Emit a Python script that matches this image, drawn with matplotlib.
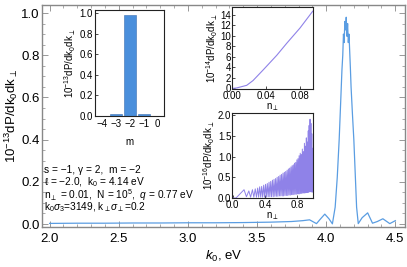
import numpy as np
import matplotlib
matplotlib.use("Agg")
from matplotlib import pyplot as plt
from matplotlib.ticker import MultipleLocator

plt.rcParams['font.family'] = ['Liberation Sans', 'DejaVu Sans']
plt.rcParams['mathtext.fontset'] = 'custom'
plt.rcParams['mathtext.rm'] = 'Liberation Sans'
plt.rcParams['mathtext.it'] = 'Liberation Sans:italic'
plt.rcParams['mathtext.bf'] = 'Liberation Sans:bold'

# main spectrum dP/dk0dk_perp (10^-13) vs k0 (eV)
k0 = [2.00, 2.20, 2.40, 2.60, 2.80, 3.00, 3.20, 3.40, 3.60, 3.75, 3.83, 3.88,
      3.93, 3.96, 3.99, 4.02, 4.045, 4.065, 4.08, 4.094, 4.105, 4.114, 4.12,
      4.125, 4.13, 4.135, 4.14, 4.145, 4.15, 4.155, 4.16, 4.165, 4.17, 4.175,
      4.18, 4.19, 4.20, 4.21, 4.22, 4.232, 4.26, 4.30, 4.335, 4.37, 4.41,
      4.46, 4.50]
spec = [0.003, 0.004, 0.004, 0.005, 0.005, 0.006, 0.006, 0.007, 0.009, 0.012,
        0.016, 0.02, 0.002, 0.025, 0.047, 0.025, 0.001, 0.08, 0.22, 0.40,
        0.58, 0.73, 0.80, 0.90, 0.86, 0.96, 0.92, 0.98, 0.89, 0.95, 0.86,
        0.90, 0.82, 0.74, 0.65, 0.52, 0.40, 0.24, 0.08, 0.002, 0.03, 0.053,
        0.004, 0.012, 0.025, 0.002, 0.016]

# inset 1: distribution over m
m_vals = [-4, -3, -2, -1]
m_dist = [0.003, 0.02, 0.98, 0.02]

# inset 2: small n_perp (10^-14)
n_small = [0.0, 0.0055, 0.0173, 0.0247, 0.0365, 0.0526, 0.0644, 0.080, 0.095]
d_small = [0.0, 0.1, 0.6, 1.5, 3.5, 6.3, 8.6, 11.5, 14.7]

# inset 3: full n_perp range (10^-16), peaks and troughs in order
n_full = [0.0, 0.04, 0.14, 0.17, 0.20, 0.222, 0.245, 0.262, 0.28, 0.295,
          0.31, 0.322, 0.335, 0.348, 0.36, 0.372, 0.385, 0.396, 0.408, 0.419,
          0.43, 0.441, 0.452, 0.462, 0.473, 0.483, 0.494, 0.504, 0.514, 0.524,
          0.534, 0.543, 0.553, 0.562, 0.572, 0.581, 0.59, 0.599, 0.608, 0.617,
          0.626, 0.634, 0.643, 0.651, 0.66, 0.668, 0.677, 0.685, 0.693, 0.701,
          0.709, 0.717, 0.725, 0.732, 0.74, 0.747, 0.755, 0.762, 0.77, 0.777,
          0.785, 0.792, 0.799, 0.806, 0.813, 0.82, 0.827, 0.834, 0.841, 0.847,
          0.854, 0.86, 0.867, 0.873, 0.88, 0.886, 0.893, 0.899, 0.905, 0.911,
          0.917, 0.923, 0.929, 0.935, 0.941, 0.946, 0.952, 0.957, 0.963, 0.968,
          0.974, 0.979, 0.985, 0.99, 0.995, 0.999]
d_full = [0.0, 0.0, 0.20, 0.03, 0.17, 0.02, 0.20, 0.02, 0.22, 0.02,
          0.24, 0.02, 0.27, 0.02, 0.28, 0.02, 0.31, 0.02, 0.33, 0.02,
          0.35, 0.03, 0.38, 0.03, 0.40, 0.03, 0.43, 0.03, 0.45, 0.04,
          0.47, 0.04, 0.50, 0.04, 0.52, 0.05, 0.55, 0.05, 0.57, 0.05,
          0.60, 0.05, 0.62, 0.06, 0.64, 0.06, 0.67, 0.06, 0.70, 0.07,
          0.72, 0.07, 0.75, 0.08, 0.78, 0.08, 0.80, 0.08, 0.84, 0.09,
          0.86, 0.09, 0.92, 0.10, 0.95, 0.10, 1.02, 0.10, 1.08, 0.11,
          1.05, 0.11, 1.18, 0.12, 1.12, 0.12, 1.32, 0.12, 1.25, 0.13,
          1.45, 0.13, 1.35, 0.14, 1.62, 0.14, 1.75, 0.15, 1.90, 0.15,
          1.80, 0.15, 1.55, 0.14, 1.20, 0.40]

blue = '#5a9de2'
bar_blue = '#4a8fdc'
purple = '#8f82e8'
ylab = r'$10^{-13}$dP/dk$_0$dk$_\perp$'

fig = plt.figure(figsize=(4.07, 2.67), dpi=100)

ax = fig.add_axes([42 / 407, 1 - 227 / 267, 363 / 407, 222 / 267])
ax.plot(k0, spec, color=blue, lw=0.9)
ax.set_xlim(1.945, 4.57)
ax.set_ylim(-0.014, 1.038)
ax.xaxis.set_major_locator(MultipleLocator(0.5))
ax.xaxis.set_minor_locator(MultipleLocator(0.1))
ax.yaxis.set_major_locator(MultipleLocator(0.2))
ax.yaxis.set_minor_locator(MultipleLocator(0.05))
ax.xaxis.set_major_formatter(plt.FormatStrFormatter('%.1f'))
ax.yaxis.set_major_formatter(plt.FormatStrFormatter('%.1f'))
ax.tick_params(which='both', direction='in', top=True, right=True, color='#888888',
               labelsize=9.5, pad=1.5)
ax.tick_params(axis='x', pad=4)
ax.tick_params(which='major', length=4, width=0.6)
ax.tick_params(which='minor', length=2, width=0.5)
for s in ax.spines.values():
    s.set_color('#888888')
    s.set_linewidth(1.0)
ax.set_xlabel(r'$k_0$, eV', fontsize=9.5, labelpad=3)
ax.set_ylabel(ylab, fontsize=9.5, labelpad=1)

tx = 44 / 407
fig.text(tx, 1 - 170 / 267, r's = −1, γ = 2,  m = −2', fontsize=7.3, va='center')
fig.text(tx, 1 - 182 / 267, r'ℓ = −2.0,  k$_0$ = 4.14 eV', fontsize=7.3, va='center')
fig.text(tx, 1 - 195 / 267, r'n$_\perp$ = 0.01,  N = 10$^5$,  $q$ = 0.77 eV',
         fontsize=7.3, va='center')
fig.text(tx, 1 - 207 / 267, r'k$_0\sigma_3$=3149, k$_\perp\sigma_\perp$=0.2',
         fontsize=7.3, va='center')


def style_inset(a):
    a.tick_params(which='both', direction='in', labelsize=7, pad=1.5, length=2.5,
                  width=0.5, top=False, right=False)
    for s in a.spines.values():
        s.set_color('#222222')
        s.set_linewidth(0.8)


# inset 1: bars over m
a1 = fig.add_axes([95 / 407, 1 - 116 / 267, 69 / 407, 106 / 267])
a1.bar(m_vals, m_dist, width=0.9, color=bar_blue, edgecolor='#3b6fb0', linewidth=0.4)
a1.set_xlim(-4.5, 0.45)
a1.set_ylim(0, 1.03)
a1.set_xticks([-4, -3, -2, -1, 0])
a1.set_xticklabels(['−4', '−3', '−2', '−1', '0'])
a1.yaxis.set_major_locator(MultipleLocator(0.2))
a1.yaxis.set_major_formatter(plt.FormatStrFormatter('%.1f'))
style_inset(a1)
a1.tick_params(axis='x', length=0, pad=2)
a1.set_xlabel('m', fontsize=7, labelpad=6)
a1.set_ylabel(ylab, fontsize=7, labelpad=1)

# inset 2: small n_perp
a2 = fig.add_axes([232 / 407, 1 - 89 / 267, 81 / 407, 82 / 267])
a2.plot(n_small, d_small, color=purple, lw=0.8)
a2.set_xlim(0, 0.0953)
a2.set_ylim(-0.1, 15.5)
a2.set_xticks([0.0, 0.04, 0.08])
a2.xaxis.set_major_formatter(plt.FormatStrFormatter('%.2f'))
a2.yaxis.set_major_locator(MultipleLocator(2))
style_inset(a2)
a2.tick_params(axis='y', pad=0.5)
a2.set_xlabel(r'n$_\perp$', fontsize=7, labelpad=0)
a2.set_ylabel(r'$10^{-14}$dP/dk$_0$dk$_\perp$', fontsize=7, labelpad=0.5)

# inset 3: full n_perp range
a3 = fig.add_axes([232 / 407, 1 - 198 / 267, 81 / 407, 85 / 267])
a3.plot(n_full, d_full, color=purple, lw=0.7)
a3.set_xlim(-0.01, 1.0)
a3.set_ylim(0, 2.05)
a3.set_xticks([0.0, 0.4, 0.8])
a3.xaxis.set_major_formatter(plt.FormatStrFormatter('%.1f'))
a3.yaxis.set_major_locator(MultipleLocator(0.5))
a3.yaxis.set_major_formatter(plt.FormatStrFormatter('%.1f'))
style_inset(a3)
a3.tick_params(axis='y', pad=0.5)
a3.set_xlabel(r'n$_\perp$', fontsize=7, labelpad=0)
a3.set_ylabel(r'$10^{-16}$dP/dk$_0$dk$_\perp$', fontsize=7, labelpad=0.5)

fig.savefig('out.png', dpi=100)
